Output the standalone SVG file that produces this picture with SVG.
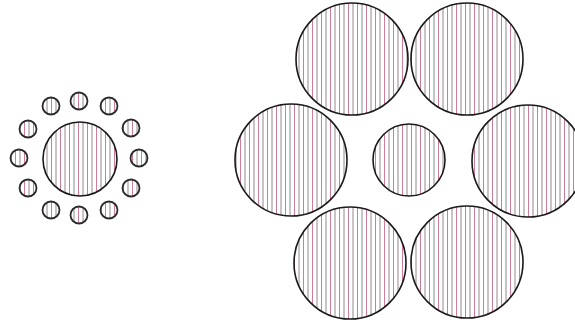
<svg xmlns="http://www.w3.org/2000/svg" width="575" height="320" viewBox="0 0 575 320">
<defs>
<pattern id="hatch" patternUnits="userSpaceOnUse" width="9" height="10">
<line x1="2" y1="0" x2="2" y2="10" stroke="#7a6a70" stroke-width="0.8"/>
<line x1="6.5" y1="0" x2="6.5" y2="10" stroke="#c25a7c" stroke-width="0.8"/>
</pattern>
</defs>
<style>
.c{fill:url(#hatch);stroke:#1a1a1a;stroke-width:1.6}
.s{fill:url(#hatch);stroke:#2a2a2a;stroke-width:1.8}
</style>
<rect width="575" height="320" fill="#ffffff"/>
<g id="left-figure">
<g id="left-center"><circle class="c" cx="80" cy="159" r="37"/></g>
<g id="ring">
<circle class="s" cx="79" cy="101" r="8.5"/>
<circle class="s" cx="109" cy="106" r="8.5"/>
<circle class="s" cx="131" cy="128" r="8.5"/>
<circle class="s" cx="139" cy="158" r="8.5"/>
<circle class="s" cx="131" cy="188" r="8.5"/>
<circle class="s" cx="109" cy="210" r="8.5"/>
<circle class="s" cx="79" cy="215" r="8.5"/>
<circle class="s" cx="51" cy="210" r="8.5"/>
<circle class="s" cx="28" cy="188" r="8.5"/>
<circle class="s" cx="19" cy="158" r="8.5"/>
<circle class="s" cx="28" cy="129" r="8.5"/>
<circle class="s" cx="51" cy="106" r="8.5"/>
</g>
</g>
<g id="right-figure">
<g id="right-center"><circle class="c" cx="409" cy="160" r="36"/></g>
<g id="big-top-left"><circle class="c" cx="352" cy="59" r="56"/></g>
<g id="big-top-right"><circle class="c" cx="467" cy="59" r="56"/></g>
<g id="big-left"><circle class="c" cx="291" cy="160" r="56"/></g>
<g id="big-right"><circle class="c" cx="528" cy="161" r="56"/></g>
<g id="big-bottom-left"><circle class="c" cx="350" cy="263" r="56"/></g>
<g id="big-bottom-right"><circle class="c" cx="467" cy="262" r="56"/></g>
</g>
</svg>
